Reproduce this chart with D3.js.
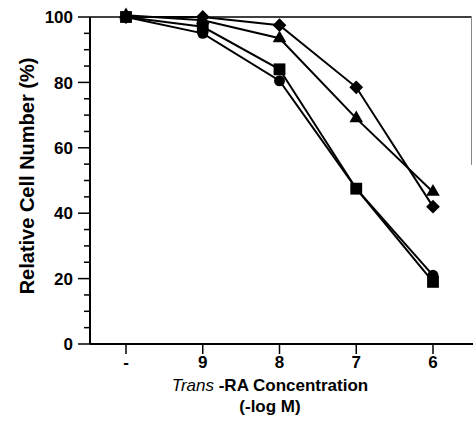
<!DOCTYPE html>
<html lang="en">
<head>
  <meta charset="UTF-8">
  <title>Relative Cell Number</title>
  <script src="https://d3js.org/d3.v7.min.js"></script>
  <style>
    body { margin: 0; background: #fff; }
    svg { display: block; }
    text { font-family: "Liberation Sans", Arial, Helvetica, sans-serif; fill: #000; }
    .tick-label { font-size: 17px; font-weight: bold; }
    .title { font-size: 17px; font-weight: bold; }
  </style>
</head>
<body>
  <svg width="473" height="437"></svg>
  <script>
    // concentrations (-log M), "-" = no RA
    const concentrations = ["-", "9", "8", "7", "6"];

    // relative cell number (%) per marker series
    const diamondSeries  = [100, 100, 97.5, 78.5, 42];
    const triangleSeries = [100.5, 99, 93.5, 69, 46.5];
    const squareSeries   = [100, 97, 84, 47.5, 19];
    const circleSeries   = [100, 95, 80.5, 47.5, 21];

    const yTicks = [0, 20, 40, 60, 80, 100];

    // square turned 45 degrees (d3's own diamond is too narrow)
    const squareDiamond = {
      draw(context, size) {
        const r = Math.sqrt(size / 2);
        context.moveTo(0, -r);
        context.lineTo(r, 0);
        context.lineTo(0, r);
        context.lineTo(-r, 0);
        context.closePath();
      }
    };

    const series = [
      { name: "circle",   values: circleSeries,   symbol: d3.symbolCircle,   size: 95 },
      { name: "square",   values: squareSeries,   symbol: d3.symbolSquare,   size: 140 },
      { name: "triangle", values: triangleSeries, symbol: d3.symbolTriangle, size: 80 },
      { name: "diamond",  values: diamondSeries,  symbol: squareDiamond,     size: 95 }
    ];

    const svg = d3.select("svg");
    const plotLeft = 90, plotRight = 473, plotTop = 17, plotBottom = 344;

    const x = d3.scalePoint().domain(concentrations).range([126, 433]);
    const y = d3.scaleLinear().domain([0, 100]).range([plotBottom, plotTop]);

    // frame: top line and partial right edge
    svg.append("line")
      .attr("x1", plotLeft).attr("x2", 471)
      .attr("y1", plotTop).attr("y2", plotTop)
      .attr("stroke", "#000").attr("stroke-width", 1.5);
    svg.append("line")
      .attr("x1", 471.5).attr("x2", 471.5)
      .attr("y1", 16).attr("y2", 165)
      .attr("stroke", "#888").attr("stroke-width", 1);

    // y axis with minor ticks every 5
    const yAxis = svg.append("g");
    yAxis.append("line")
      .attr("x1", plotLeft).attr("x2", plotLeft)
      .attr("y1", plotTop).attr("y2", plotBottom)
      .attr("stroke", "#000").attr("stroke-width", 2);
    yAxis.selectAll(".minor")
      .data(d3.range(0, 101, 5))
      .join("line")
      .attr("x1", d => yTicks.includes(d) ? plotLeft - 12 : plotLeft - 6)
      .attr("x2", plotLeft)
      .attr("y1", d => y(d)).attr("y2", d => y(d))
      .attr("stroke", "#000").attr("stroke-width", 1.5);
    yAxis.selectAll(".tick-label")
      .data(yTicks)
      .join("text")
      .attr("class", "tick-label")
      .attr("x", 73)
      .attr("y", d => y(d))
      .attr("dy", "0.36em")
      .attr("text-anchor", "end")
      .text(d => d);

    // x axis
    const xAxis = svg.append("g");
    xAxis.append("line")
      .attr("x1", plotLeft).attr("x2", plotRight)
      .attr("y1", plotBottom).attr("y2", plotBottom)
      .attr("stroke", "#000").attr("stroke-width", 2);
    xAxis.selectAll(".xt")
      .data(concentrations)
      .join("line")
      .attr("x1", d => x(d)).attr("x2", d => x(d))
      .attr("y1", plotBottom).attr("y2", plotBottom + 10)
      .attr("stroke", "#000").attr("stroke-width", 1.5);
    xAxis.selectAll(".tick-label")
      .data(concentrations)
      .join("text")
      .attr("class", "tick-label")
      .attr("x", d => x(d))
      .attr("y", 368)
      .attr("text-anchor", "middle")
      .text(d => d);

    // axis titles
    const xt = svg.append("text")
      .attr("class", "title")
      .attr("x", 270).attr("y", 391)
      .attr("text-anchor", "middle");
    xt.append("tspan").attr("font-style", "italic").attr("font-weight", "normal").text("Trans");
    xt.append("tspan").text(" -RA Concentration");
    svg.append("text")
      .attr("class", "title")
      .attr("x", 270).attr("y", 412)
      .attr("text-anchor", "middle")
      .text("(-log M)");
    svg.append("text")
      .attr("class", "title")
      .attr("transform", "translate(34,176) rotate(-90)")
      .attr("text-anchor", "middle")
      .style("font-size", "20px")
      .text("Relative Cell Number (%)");

    // lines and markers
    const line = d3.line()
      .x((d, i) => x(concentrations[i]))
      .y(d => y(d));

    const g = svg.append("g");
    series.forEach(s => {
      g.append("path")
        .datum(s.values)
        .attr("d", line)
        .attr("fill", "none")
        .attr("stroke", "#000")
        .attr("stroke-width", 2);
    });
    series.forEach(s => {
      g.selectAll(".m-" + s.name)
        .data(s.values)
        .join("path")
        .attr("transform", (d, i) => `translate(${x(concentrations[i])},${y(d)})`)
        .attr("d", d3.symbol().type(s.symbol).size(s.size))
        .attr("fill", "#000");
    });
  </script>
</body>
</html>
